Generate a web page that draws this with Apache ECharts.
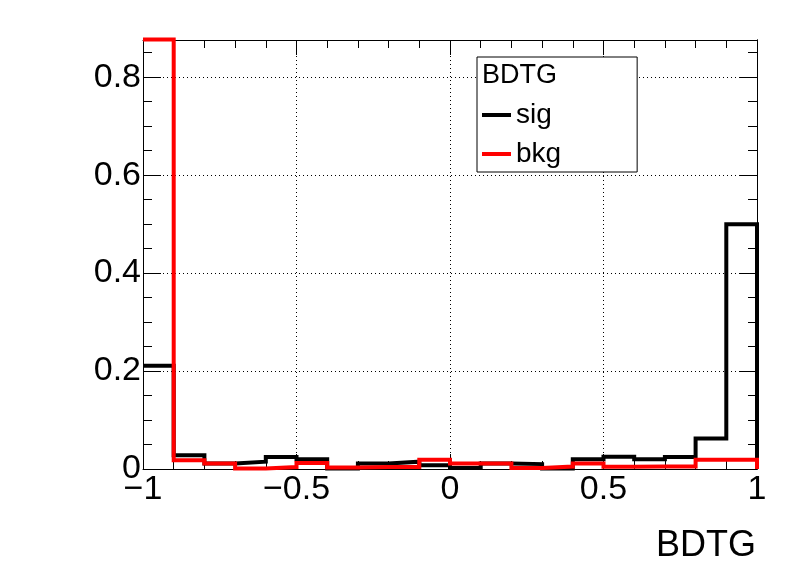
<!DOCTYPE html>
<html>
<head>
<meta charset="utf-8">
<script src="https://cdn.jsdelivr.net/npm/echarts@6/dist/echarts.min.js"></script>
<style>
  html, body { margin: 0; padding: 0; background: #fff; }
  #chart { width: 796px; height: 572px; }
</style>
</head>
<body>
<div id="chart"></div>
<script>
// histogram bin edges (20 bins of 0.1 from -1 to 1)
const BIN_EDGES = [-1, -0.9, -0.8, -0.7, -0.6, -0.5, -0.4, -0.3, -0.2, -0.1, 0,
  0.1, 0.2, 0.3, 0.4, 0.5, 0.6, 0.7, 0.8, 0.9, 1]
const SIG = [0.211, 0.028, 0.011, 0.015, 0.0245, 0.020, 0.001, 0.011, 0.015, 0.0075,
  0.002, 0.011, 0.010, 0.001, 0.020, 0.025, 0.020, 0.0245, 0.0625, 0.500]
const BKG = [0.877, 0.018, 0.011, 0.001, 0.004, 0.012, 0.003, 0.004, 0.004, 0.019,
  0.011, 0.011, 0.002, 0.005, 0.011, 0.0047, 0.005, 0.005, 0.019, 0.019]
const Y_MAX = 0.876
const FONT = 'Liberation Sans'

// step points: left edge of each bin, then close at the last edge and drop to 0
function stepPoints(values) {
  const pts = values.map((v, i) => [BIN_EDGES[i], v])
  const last = BIN_EDGES[BIN_EDGES.length - 1]
  pts.push([last, values[values.length - 1]])
  pts.push([last, 0])
  return pts
}

const minus = v => String(v).replace('-', '\u2212')
const dotted = { color: '#000', width: 1, type: [1, 3] }

function xAxisDef(position, labels) {
  return {
    type: 'value', position, min: -1, max: 1, interval: 0.5,
    axisLine: { show: true, onZero: false, lineStyle: { color: '#000', width: 1 } },
    axisTick: { show: true, inside: true, length: 15, lineStyle: { color: '#000' } },
    minorTick: { show: true, splitNumber: 5, length: 8, lineStyle: { color: '#000' } },
    splitLine: { show: labels, lineStyle: dotted },
    axisLabel: labels
      ? { show: true, formatter: minus, fontSize: 34, fontFamily: FONT, color: '#000', margin: 4 }
      : { show: false },
  }
}

function yAxisDef(position, interval, tickLen, labels) {
  return {
    type: 'value', position, min: 0, max: Y_MAX, interval,
    axisLine: { show: true, onZero: false, lineStyle: { color: '#000', width: 1 } },
    axisTick: { show: true, inside: true, length: tickLen, lineStyle: { color: '#000' } },
    splitLine: { show: labels, lineStyle: dotted },
    axisLabel: labels
      ? { show: true, showMaxLabel: false, fontSize: 34, fontFamily: FONT, color: '#000', margin: 2 }
      : { show: false },
  }
}

const chart = echarts.init(document.getElementById('chart'), null, { renderer: 'canvas' })
chart.setOption({
  animation: false,
  backgroundColor: '#fff',
  grid: { left: 143, right: 39, top: 40, bottom: 103 },
  xAxis: [xAxisDef('bottom', true), xAxisDef('top', false)],
  yAxis: [
    yAxisDef('left', 0.2, 18, true),
    yAxisDef('left', 0.05, 9, false),
    yAxisDef('right', 0.2, 18, false),
    yAxisDef('right', 0.05, 9, false),
  ],
  legend: {
    data: ['sig', 'bkg'],
    orient: 'vertical',
    left: 477, top: 57,
    padding: [44, 76, 4, 5],
    itemGap: 11,
    icon: 'rect',
    itemWidth: 29, itemHeight: 4,
    backgroundColor: '#fff',
    borderColor: '#000', borderWidth: 1, borderRadius: 0,
    textStyle: { fontSize: 28, fontFamily: FONT, color: '#000' },
  },
  graphic: [
    {
      type: 'text', x: 482, y: 75.5, z: 100,
      style: { text: 'BDTG', font: `27px "${FONT}"`, fill: '#000', textAlign: 'left', textVerticalAlign: 'middle' },
    },
    {
      type: 'text', x: 756, y: 546, z: 100,
      style: { text: 'BDTG', font: `36px "${FONT}"`, fill: '#000', textAlign: 'right', textVerticalAlign: 'middle' },
    },
  ],
  series: [
    {
      name: 'sig', type: 'line', step: 'end', symbol: 'none', clip: false,
      data: stepPoints(SIG), z: 3,
      itemStyle: { color: '#000' },
      lineStyle: { color: '#000', width: 4, join: 'miter', cap: 'butt' },
    },
    {
      name: 'bkg', type: 'line', step: 'end', symbol: 'none', clip: false,
      data: stepPoints(BKG), z: 4,
      itemStyle: { color: '#ff0000' },
      lineStyle: { color: '#ff0000', width: 4, join: 'miter', cap: 'butt' },
    },
  ],
})
</script>
</body>
</html>
